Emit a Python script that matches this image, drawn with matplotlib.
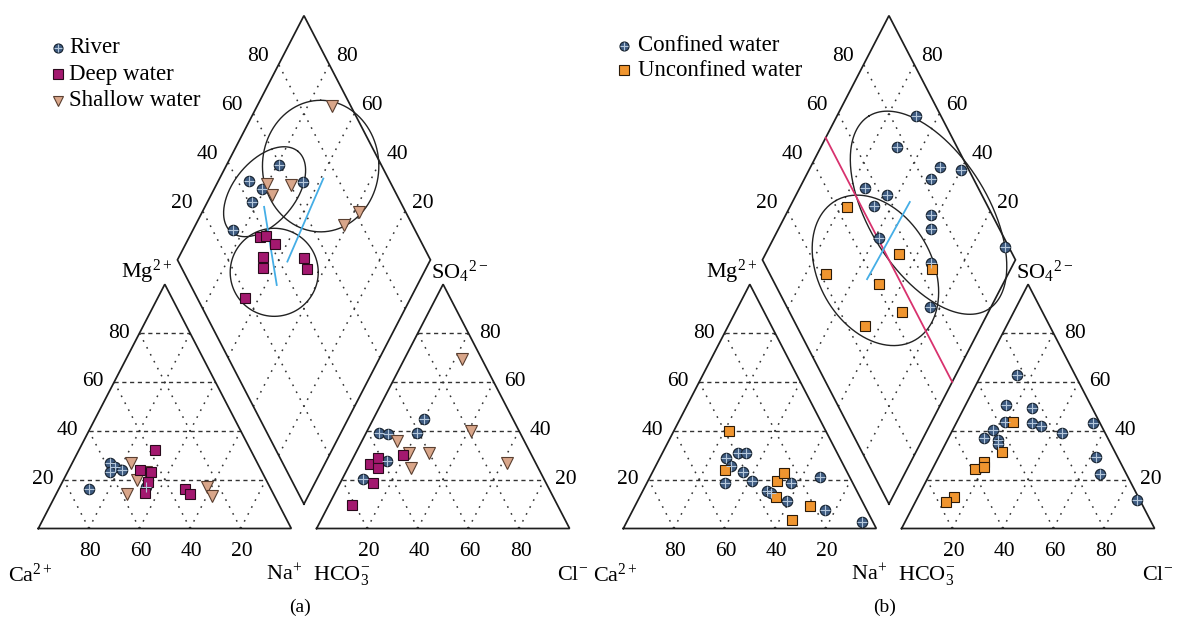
import numpy as np
import matplotlib.pyplot as plt

plt.rcParams['font.family'] = ['Liberation Serif', 'DejaVu Serif']
plt.rcParams['mathtext.fontset'] = 'custom'
plt.rcParams['mathtext.rm'] = 'Liberation Serif'
plt.rcParams['mathtext.it'] = 'Liberation Serif:italic'
plt.rcParams['mathtext.bf'] = 'Liberation Serif:bold'

# ---------------- data (percent) ----------------
# cation triangle: Mg, Na  (Ca = 100 - Mg - Na)
a_river_cat_mg = [16, 27, 25, 24, 23, 17]
a_river_cat_na = [12, 15, 18, 21, 17, 34]
a_deep_cat_mg = [32, 24, 23, 19, 14.5, 16, 14]
a_deep_cat_na = [30, 28, 33, 34, 35, 50, 53]
a_shallow_cat_mg = [27, 23, 20, 14, 17, 13.5]
a_shallow_cat_na = [23, 31, 29, 28, 58, 62]

# anion triangle: SO4, Cl  (HCO3 = 100 - SO4 - Cl)
a_river_an_so4 = [45, 39, 38.6, 39, 27.6, 20.3]
a_river_an_cl = [20, 5, 9, 20, 14, 8]
a_deep_an_so4 = [26.6, 28.7, 24.8, 30.3, 18.6, 9.6]
a_deep_an_cl = [8, 10, 12, 19, 13, 9]
a_shallow_an_so4 = [69.3, 40, 35.8, 31, 31, 24.8, 26.9]
a_shallow_an_cl = [23, 41, 14, 21, 29, 25, 62]

# diamond: Ca+Mg, SO4+Cl
a_river_dia_camg = [79.2, 87.9, 81.0, 66.2, 82.5, 84.4]
a_river_dia_so4cl = [59.5, 44.5, 48.2, 65.7, 41.3, 28.0]
a_shallow_dia_camg = [70.3, 80.3, 75.8, 70.6, 38.0, 41.3]
a_shallow_dia_so4cl = [92.7, 50.9, 50.9, 60.0, 81.4, 72.8]
a_deep_dia_camg = [72.1, 70.0, 64.7, 66.8, 64.4, 50.3, 47.0, 65.6]
a_deep_dia_so4cl = [37.4, 39.8, 41.6, 34.5, 32.1, 50.3, 49.1, 18.9]

b_conf_cat_mg = [29, 25.4, 31, 31, 23, 18.6, 19.6, 15.4, 14.6, 18.7, 11.3, 21.2, 7.6, 2.5]
b_conf_cat_na = [26, 30, 30, 33, 36, 31, 41, 49, 51, 57, 59, 67, 76, 93]
b_unconf_cat_mg = [39.8, 24, 19.6, 22.8, 12.7, 9.2, 3.3]
b_unconf_cat_na = [22, 28, 51, 52, 54, 69, 65]

b_conf_an_so4 = [63, 50.6, 49.2, 43.7, 43.2, 42, 39, 43.2, 40.4, 37.2, 36.2, 34.5, 29.4, 22.5, 11.7]
b_conf_an_cl = [14, 16, 27, 19, 30, 34, 44, 54, 16, 14, 20, 21, 62, 67, 87]
b_unconf_an_so4 = [43.7, 31.3, 27.1, 24.4, 25.1, 13.1, 11]
b_unconf_an_cl = [22, 24, 19, 17, 20, 14, 12]

b_conf_dia_camg = [68.8, 69.9, 49.0, 40.1, 50.2, 74.4, 63.9, 67.0, 42.7, 39.8, 58.6, 6.9, 32.6, 24.1]
b_conf_dia_so4cl = [90.3, 76.4, 89.2, 96.7, 83.1, 55.2, 62.5, 55.0, 75.6, 72.7, 50.5, 98.4, 66.0, 56.4]
b_unconf_dia_camg = [77.3, 71.8, 47.0, 49.0, 31.3, 34.2, 46.1]
b_unconf_dia_so4cl = [44.2, 22.3, 55.3, 41.0, 65.0, 44.6, 26.9]

ticks = [20, 40, 60, 80]

# ---------------- geometry ----------------
H = np.sqrt(3) / 2
SX, SY = 253.0, 282.0   # pixels per unit


def cation(mg, na):
    mg, na = np.asarray(mg) / 100, np.asarray(na) / 100
    return na + mg / 2, mg * H


def anion(so4, cl):
    so4, cl = np.asarray(so4) / 100, np.asarray(cl) / 100
    return 1.1 + cl + so4 / 2, so4 * H


def diamond(camg, so4cl):
    s, t = np.asarray(camg) / 100, np.asarray(so4cl) / 100
    return 1.05 + (t - s) / 2, 0.1 * H + (s + t) * H


STYLES = {
    'river': dict(marker='o', mfc='#3d5a80', mec='#15202c', ms=7.5, cross=True),
    'deep': dict(marker='s', mfc='#a3186f', mec='#2a0a1c', ms=7.5),
    'shallow': dict(marker='v', mfc='#d9a68a', mec='#5a3f30', ms=8.5),
    'unconf': dict(marker='s', mfc='#f0952f', mec='#2b1a08', ms=7.5),
}


def pts(ax, x, y, kind, ms=None):
    st = dict(STYLES[kind])
    cross = st.pop('cross', False)
    if ms is not None:
        st['ms'] = ms
    ax.plot(x, y, ls='none', mew=0.8, zorder=5, clip_on=False, **st)
    if cross:
        ax.plot(x, y, ls='none', marker='+', color='#b5c8dc',
                ms=st['ms'] * 0.9, mew=0.8, zorder=6, clip_on=False)


def ellipse(ax, camg, so4cl, a, b, ang):
    cx, cy = diamond(camg, so4cl)
    phi = np.linspace(0, 2 * np.pi, 300)
    th = np.radians(ang)
    ex, ey = a * np.cos(phi), b * np.sin(phi)
    rx = ex * np.cos(th) - ey * np.sin(th)
    ry = ex * np.sin(th) + ey * np.cos(th)
    ax.plot(cx + rx, cy + ry * SX / SY, color='#222222', lw=1.0, zorder=4)


def seg(ax, p0, p1, color):
    x0, y0 = diamond(*p0)
    x1, y1 = diamond(*p1)
    ax.plot([x0, x1], [y0, y1], color=color, lw=1.3, zorder=4)


def frame(ax, tag):
    edge = dict(color='#1e1e1e', lw=1.25, zorder=3, solid_joinstyle='miter')
    dash = dict(color='#333333', lw=1.0, ls=(0, (3, 2.6)), zorder=2)
    dot = dict(color='#333333', lw=1.1, ls=(0, (1.1, 4.0)), zorder=2)
    fs = 15.5
    # triangles
    for x0 in (0.0, 1.1):
        ax.plot([x0, x0 + 1, x0 + 0.5, x0], [0, 0, H, 0], **edge)
        for v in np.array(ticks) / 100:
            ax.plot([x0 + v / 2, x0 + 1 - v / 2], [v * H, v * H], **dash)
            ax.plot([x0 + v, x0 + v + (1 - v) / 2], [0, (1 - v) * H], **dot)
            ax.plot([x0 + 1 - v, x0 + (1 - v) / 2], [0, (1 - v) * H], **dot)
    # diamond
    dx, dy = diamond([0, 100, 100, 0, 0], [0, 0, 100, 100, 0])
    ax.plot(dx, dy, **edge)
    for v in ticks:
        x, y = diamond([v, v], [0, 100])
        ax.plot(x, y, **dot)
        x, y = diamond([0, 100], [v, v])
        ax.plot(x, y, **dot)
    # tick labels
    for v in ticks:
        x, y = cation(v, 0)
        ax.text(x - 0.083, y, str(v), fontsize=fs, ha='center', va='center')
        x, y = cation(0, 100 - v)
        ax.text(x + 0.006, y - 0.08, str(v), fontsize=fs, ha='center', va='center')
        x, y = anion(0, v)
        ax.text(x + 0.006, y - 0.08, str(v), fontsize=fs, ha='center', va='center')
        x, y = anion(v, 100 - v)
        ax.text(x + 0.085, y, str(v), fontsize=fs, ha='center', va='center')
        x, y = diamond(100, v)
        ax.text(x - 0.083, y + 0.028, str(v), fontsize=fs, ha='center', va='center')
        x, y = diamond(v, 100)
        ax.text(x + 0.07, y + 0.028, str(v), fontsize=fs, ha='center', va='center')
    # ion labels
    fl = 16
    ax.text(0.426, 0.91, r'Mg$^{2+}$', fontsize=fl, ha='center', va='center')
    ax.text(1.665, 0.91, r'SO$_4$$^{2-}$', fontsize=fl, ha='center', va='center')
    ax.text(-0.03, -0.165, r'Ca$^{2+}$', fontsize=fl, ha='center', va='center')
    ax.text(0.972, -0.165, r'Na$^{+}$', fontsize=fl, ha='center', va='center')
    ax.text(1.2, -0.165, r'HCO$_3^{-}$', fontsize=fl, ha='center', va='center')
    ax.text(2.113, -0.165, r'Cl$^{-}$', fontsize=fl, ha='center', va='center')
    ax.text(1.034, -0.278, tag, fontsize=14, ha='center', va='center')


fig = plt.figure(figsize=(11.87, 6.25), dpi=100)
ylim = ((528.5 - 625) / SY, 528.5 / SY)

# ---------------- panel (a) ----------------
ax = fig.add_axes([0, 0, 0.5, 1])
ax.set_xlim(-38.3 / SX, (593.5 - 38.3) / SX)
ax.set_ylim(*ylim)
ax.axis('off')
frame(ax, '(a)')

pts(ax, *cation(a_river_cat_mg, a_river_cat_na), 'river')
pts(ax, *cation(a_shallow_cat_mg, a_shallow_cat_na), 'shallow')
pts(ax, *cation(a_deep_cat_mg, a_deep_cat_na), 'deep')
pts(ax, *anion(a_river_an_so4, a_river_an_cl), 'river')
pts(ax, *anion(a_shallow_an_so4, a_shallow_an_cl), 'shallow')
pts(ax, *anion(a_deep_an_so4, a_deep_an_cl), 'deep')
pts(ax, *diamond(a_river_dia_camg, a_river_dia_so4cl), 'river')
pts(ax, *diamond(a_shallow_dia_camg, a_shallow_dia_so4cl), 'shallow')
pts(ax, *diamond(a_deep_dia_camg, a_deep_dia_so4cl), 'deep')

ellipse(ax, 79.5, 48.4, 0.207, 0.1225, 50.5)
ellipse(ax, 62.6, 75.8, 0.26, 0.23, 90)
ellipse(ax, 59.2, 35.7, 0.174, 0.174, 0)
seg(ax, (76.6, 45.1), (55.6, 34.1), '#45aee6')
seg(ax, (59.0, 74.3), (56.2, 43.1), '#45aee6')

for i, (kind, label) in enumerate([('river', 'River'), ('deep', 'Deep water'),
                                   ('shallow', 'Shallow water')]):
    y = 1.704 - i * 0.094
    pts(ax, [0.078], [y], kind, ms=6.5)
    ax.text(0.122, y, label, fontsize=16.5, ha='left', va='center')

# ---------------- panel (b) ----------------
ax = fig.add_axes([0.5, 0, 0.5, 1])
ax.set_xlim(-29.8 / SX, 563.7 / SX)
ax.set_ylim(*ylim)
ax.axis('off')
frame(ax, '(b)')

pts(ax, *cation(b_conf_cat_mg, b_conf_cat_na), 'river')
pts(ax, *cation(b_unconf_cat_mg, b_unconf_cat_na), 'unconf')
pts(ax, *anion(b_conf_an_so4, b_conf_an_cl), 'river')
pts(ax, *anion(b_unconf_an_so4, b_unconf_an_cl), 'unconf')
pts(ax, *diamond(b_conf_dia_camg, b_conf_dia_so4cl), 'river')
pts(ax, *diamond(b_unconf_dia_camg, b_unconf_dia_so4cl), 'unconf')

ellipse(ax, 44.0, 75.3, 0.449, 0.235, 121.7)
ellipse(ax, 53.2, 42.5, 0.317, 0.2245, 119.4)
seg(ax, (100, 50), (0, 50), '#d8326e')
seg(ax, (53.6, 70.1), (54.7, 37.4), '#45aee6')

for i, (kind, label) in enumerate([('river', 'Confined water'),
                                   ('unconf', 'Unconfined water')]):
    y = 1.711 - i * 0.086
    pts(ax, [0.003], [y], kind, ms=6.5)
    ax.text(0.058, y, label, fontsize=16.5, ha='left', va='center')

fig.savefig('out.png', dpi=100)
